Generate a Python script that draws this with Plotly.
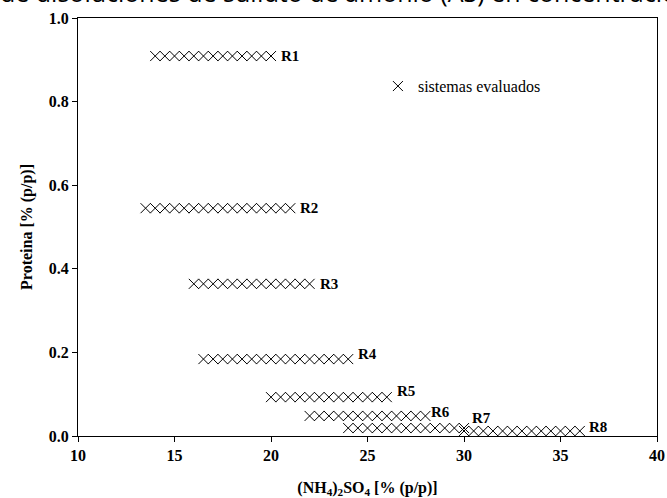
import plotly.graph_objects as go

# ---- data ----
series_names = ["R1", "R2", "R3", "R4", "R5", "R6", "R7", "R8"]
R1_x = [14.0, 14.5, 15.0, 15.5, 16.0, 16.5, 17.0, 17.5, 18.0, 18.5, 19.0, 19.5, 20.0]
R1_y = [0.909] * len(R1_x)
R2_x = [13.5, 14.0, 14.5, 15.0, 15.5, 16.0, 16.5, 17.0, 17.5, 18.0, 18.5, 19.0, 19.5, 20.0, 20.5, 21.0]
R2_y = [0.545] * len(R2_x)
R3_x = [16.0, 16.5, 17.0, 17.5, 18.0, 18.5, 19.0, 19.5, 20.0, 20.5, 21.0, 21.5, 22.0]
R3_y = [0.364] * len(R3_x)
R4_x = [16.5, 17.0, 17.5, 18.0, 18.5, 19.0, 19.5, 20.0, 20.5, 21.0, 21.5, 22.0, 22.5, 23.0, 23.5, 24.0]
R4_y = [0.184] * len(R4_x)
R5_x = [20.0, 20.5, 21.0, 21.5, 22.0, 22.5, 23.0, 23.5, 24.0, 24.5, 25.0, 25.5, 26.0]
R5_y = [0.093] * len(R5_x)
R6_x = [22.0, 22.5, 23.0, 23.5, 24.0, 24.5, 25.0, 25.5, 26.0, 26.5, 27.0, 27.5, 28.0]
R6_y = [0.048] * len(R6_x)
R7_x = [24.0, 24.5, 25.0, 25.5, 26.0, 26.5, 27.0, 27.5, 28.0, 28.5, 29.0, 29.5, 30.0]
R7_y = [0.019] * len(R7_x)
R8_x = [30.0, 30.5, 31.0, 31.5, 32.0, 32.5, 33.0, 33.5, 34.0, 34.5, 35.0, 35.5, 36.0]
R8_y = [0.012] * len(R8_x)

x_ticks = [10, 15, 20, 25, 30, 35, 40]
y_ticks = [0.0, 0.2, 0.4, 0.6, 0.8, 1.0]
legend_label = "sistemas evaluados"
x_title = "(NH<sub>4</sub>)<sub>2</sub>SO<sub>4</sub> [% (p/p)]"
y_title = "Proteina [% (p/p)]"
caption = "de disoluciones de sulfato de amonio (AS) en concentraciones"

series_x = [R1_x, R2_x, R3_x, R4_x, R5_x, R6_x, R7_x, R8_x]
series_y = [R1_y, R2_y, R3_y, R4_y, R5_y, R6_y, R7_y, R8_y]

# label offsets (pixels) - style only
label_shift = {
    "R1": (8, 0), "R2": (8, 0), "R3": (8, 0), "R4": (8, 5),
    "R5": (8, 6), "R6": (4, 4), "R7": (6, 10), "R8": (7, 4),
}

SERIF = "Liberation Serif"

fig = go.Figure()
for i, (name, xs, ys) in enumerate(zip(series_names, series_x, series_y)):
    fig.add_trace(go.Scatter(
        x=xs, y=ys, mode="markers", name=legend_label,
        legendgroup="sis", showlegend=(i == 0),
        marker=dict(symbol="x-thin-open", size=10, color="black",
                    line=dict(width=1, color="black")),
        hoverinfo="x+y",
    ))
    dx, dy = label_shift[name]
    fig.add_annotation(
        x=xs[-1], y=ys[-1], xref="x", yref="y", text="<b>%s</b>" % name,
        showarrow=False, xanchor="left", yanchor="middle",
        xshift=dx, yshift=dy,
        font=dict(family=SERIF, size=15, color="black"),
    )

fig.add_annotation(
    x=0, y=1, xref="paper", yref="paper", text=caption, showarrow=False,
    xanchor="left", yanchor="middle", xshift=-80, yshift=26,
    font=dict(family="Open Sans", size=25, color="black"),
)

axis_common = dict(
    showline=True, linecolor="black", linewidth=1, mirror=True,
    ticks="outside", ticklen=5, tickcolor="black", tickwidth=1,
    showgrid=False, zeroline=False, automargin=False,
    tickfont=dict(family=SERIF, size=16, color="black", weight="bold"),
)

fig.update_xaxes(range=[10, 40], tickvals=x_ticks,
                 ticktext=[str(v) for v in x_ticks],
                 title=dict(text=x_title, standoff=22,
                            font=dict(family=SERIF, size=16, color="black", weight="bold")),
                 **axis_common)
fig.update_yaxes(range=[0, 1], tickvals=y_ticks,
                 ticktext=["%.1f" % v for v in y_ticks],
                 title=dict(text=y_title, standoff=12,
                            font=dict(family=SERIF, size=16, color="black", weight="bold")),
                 **axis_common)

fig.update_layout(
    width=667, height=498,
    margin=dict(l=78, r=10, t=18, b=62, autoexpand=False),
    paper_bgcolor="white", plot_bgcolor="white",
    showlegend=True,
    legend=dict(x=0.518, y=0.837, xanchor="left", yanchor="middle",
                bgcolor="rgba(0,0,0,0)",
                font=dict(family=SERIF, size=16, color="black")),
)

fig.write_html("out.html", config={"displayModeBar": False},
               post_script="document.body.style.margin='0';")
